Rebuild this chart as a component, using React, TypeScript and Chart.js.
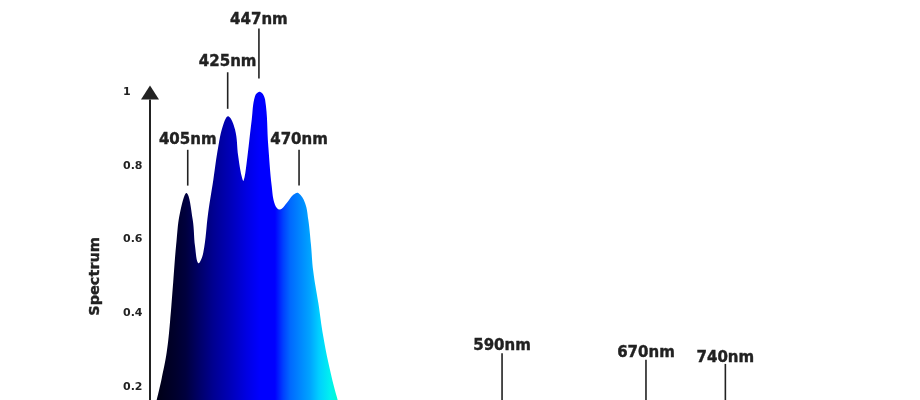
import React, { useEffect, useRef } from "react";
import { Chart, registerables } from "chart.js";

Chart.register(...registerables);

// Blue LED emission spectrum (wavelength nm, relative value)
const blueNm = [372, 380, 386.9, 389.9, 392.8, 394.7, 396.6, 398.6, 400.6, 404.5, 408.0, 409.4, 411.3, 414.2, 417.1, 420.1, 423.0, 425.9, 428.9, 432.8, 434.7, 436.7, 437.8, 439.6, 442.6, 444.5, 447.4, 450.4, 452.3, 454.3, 456.2, 459.1, 463.1, 466.9, 469.9, 473.8, 475.7, 477.3, 478.6, 481.6, 484.5, 488.4, 492.4, 498, 506, 516];
const blueVal = [0, 0.04, 0.165, 0.225, 0.295, 0.375, 0.485, 0.599, 0.673, 0.726, 0.654, 0.581, 0.536, 0.564, 0.673, 0.762, 0.852, 0.911, 0.934, 0.898, 0.825, 0.771, 0.759, 0.807, 0.925, 0.988, 1.0, 0.979, 0.852, 0.744, 0.694, 0.681, 0.699, 0.721, 0.726, 0.699, 0.654, 0.585, 0.515, 0.428, 0.337, 0.247, 0.174, 0.09, 0.03, 0];

// Lower (hidden) red/amber part of the spectrum
const redNm = [560, 575, 589.2, 605, 640, 673.5, 700, 720, 740, 770, 795];
const redVal = [0, 0.04, 0.11, 0.04, 0.03, 0.12, 0.06, 0.11, 0.08, 0.02, 0];

// Fill gradient along wavelength
const gradNm = [385.9, 397.6, 404, 412.3, 420, 429.9, 440, 447.4, 456.2, 461, 465.0, 476.7, 482, 488.4, 494.3];
const gradColors = ["#000014", "#00002c", "#00003e", "#00006a", "#000090", "#0000b8", "#0000e4", "#0000ff", "#0000ff", "#0040ff", "#0068ff", "#00a4ff", "#00cfff", "#00f0f0", "#00ffc8"];

const yTicks = [0, 0.2, 0.4, 0.6, 0.8, 1];
const yAxisTitle = "Spectrum";
const yAxisTitleAt = 0.5;

// Peak annotations
const annLabels = ["405nm", "425nm", "447nm", "470nm", "590nm", "670nm", "740nm"];
const annNm = [405.1, 428.5, 446.8, 470.3, 589.2, 673.5, 720.0];
const annTextVal = [0.86, 1.069, 1.185, 0.86, 0.301, 0.282, 0.268];
const annLineTop = [0.843, 1.053, 1.1715, 0.843, 0.292, 0.274, 0.263];
const annLineBottom = [0.746, 0.954, 1.036, 0.746, 0.14, 0.15, 0.14];

const FONT = "'DejaVu Sans', Verdana, sans-serif";
const INK = "#222222";

function boldText(ctx: any, text: string, x: number, y: number, w: number) {
  ctx.fillText(text, x, y);
  ctx.lineWidth = w;
  ctx.strokeText(text, x, y);
}

const overlay = {
  id: "overlay",
  afterDatasetsDraw(chart: any) {
    const { ctx, scales, chartArea } = chart;
    const xs = scales.x;
    const ys = scales.y;
    ctx.save();
    // y axis line with arrow
    const ax = chartArea.left;
    const tipY = ys.getPixelForValue(1.017);
    const baseY = ys.getPixelForValue(0.979);
    ctx.strokeStyle = INK;
    ctx.lineWidth = 2;
    ctx.beginPath();
    ctx.moveTo(ax, baseY);
    ctx.lineTo(ax, chartArea.bottom);
    ctx.stroke();
    ctx.fillStyle = INK;
    ctx.beginPath();
    ctx.moveTo(ax, tipY);
    ctx.lineTo(ax - 9, baseY);
    ctx.lineTo(ax + 9, baseY);
    ctx.closePath();
    ctx.fill();

    // axis title
    ctx.save();
    ctx.translate(95, ys.getPixelForValue(yAxisTitleAt));
    ctx.rotate(-Math.PI / 2);
    ctx.font = `bold 14.5px ${FONT}`;
    ctx.textAlign = "center";
    ctx.textBaseline = "middle";
    boldText(ctx, yAxisTitle, 0, 0, 0.4);
    ctx.restore();

    // annotations
    ctx.font = `bold 15px ${FONT}`;
    ctx.textAlign = "center";
    ctx.textBaseline = "alphabetic";
    for (let i = 0; i < annLabels.length; i++) {
      const x = xs.getPixelForValue(annNm[i]);
      boldText(ctx, annLabels[i], x, ys.getPixelForValue(annTextVal[i]), 0.4);
      ctx.lineWidth = 1.6;
      ctx.beginPath();
      ctx.moveTo(x, ys.getPixelForValue(annLineTop[i]));
      ctx.lineTo(x, ys.getPixelForValue(annLineBottom[i]));
      ctx.stroke();
    }
    ctx.restore();
  },
};

function blueFill(context: any) {
  const chart = context.chart;
  const { ctx, chartArea, scales } = chart;
  if (!chartArea || !scales.x) return "#0000ff";
  const x0 = scales.x.getPixelForValue(gradNm[0]);
  const x1 = scales.x.getPixelForValue(gradNm[gradNm.length - 1]);
  const g = ctx.createLinearGradient(x0, 0, x1, 0);
  const span = gradNm[gradNm.length - 1] - gradNm[0];
  gradNm.forEach((nm, i) => g.addColorStop((nm - gradNm[0]) / span, gradColors[i]));
  return g;
}

export default function App() {
  const ref = useRef<HTMLCanvasElement>(null);
  useEffect(() => {
    if (!ref.current) return;
    const chart = new Chart(ref.current, {
      type: "line",
      data: {
        datasets: [
          {
            label: "blue",
            data: blueNm.map((x, i) => ({ x, y: blueVal[i] })),
            fill: "origin",
            backgroundColor: blueFill,
            borderWidth: 0,
            pointRadius: 0,
            tension: 0.4,
          },
          {
            label: "red",
            data: redNm.map((x, i) => ({ x, y: redVal[i] })),
            fill: "origin",
            backgroundColor: "#e03a10",
            borderWidth: 0,
            pointRadius: 0,
            tension: 0.4,
          },
        ],
      },
      options: {
        animation: false,
        responsive: false,
        devicePixelRatio: 1,
        layout: { padding: { left: 123, top: 18, right: 0, bottom: 99 } },
        plugins: { legend: { display: false }, tooltip: { enabled: false } },
        scales: {
          x: { type: "linear", min: 383, max: 834, display: false },
          y: {
            type: "linear",
            min: 0,
            max: 1.2,
            grid: { display: false, drawTicks: false },
            border: { display: false },
            afterBuildTicks: (scale: any) => {
              scale.ticks = yTicks.map((v) => ({ value: v }));
            },
            afterFit: (scale: any) => {
              scale.width = 27;
            },
            ticks: {
              crossAlign: "far",
              padding: 0,
              color: INK,
              font: { family: FONT, size: 11, weight: "bold" },
              callback: (v: any) => String(v),
            },
          },
        },
      },
      plugins: [overlay],
    } as any);
    return () => chart.destroy();
  }, []);
  return (
    <div style={{ position: "absolute", left: 0, top: 0, width: 920, height: 400, overflow: "hidden", background: "#fff" }}>
      <canvas ref={ref} width={920} height={560} style={{ display: "block", width: 920, height: 560 }} />
    </div>
  );
}
